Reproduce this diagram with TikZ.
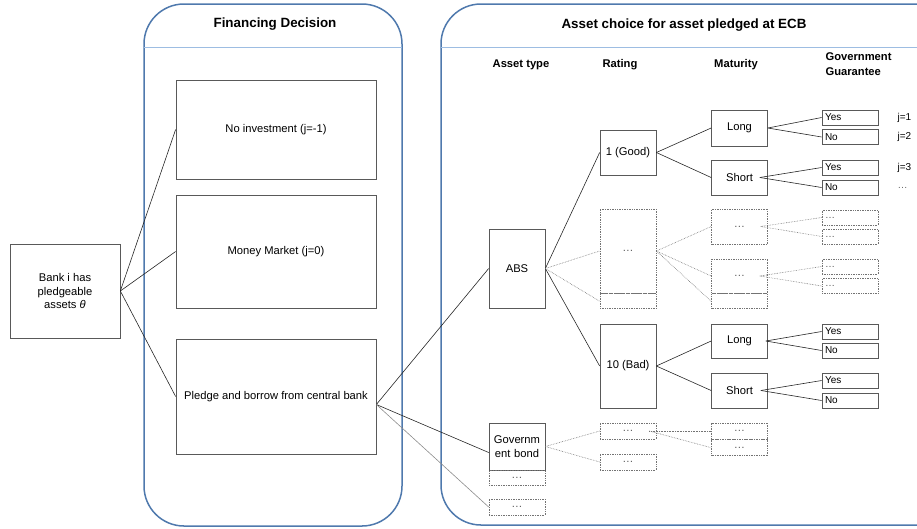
\documentclass[tikz,border=0pt]{standalone}
\usepackage{fontspec}
\setmainfont{Liberation Sans}
\usetikzlibrary{positioning}
\definecolor{panelblue}{HTML}{4F79AD}
\definecolor{headblue}{HTML}{9DBDE2}

\begin{document}
\begin{tikzpicture}[x=1pt, y=-1pt,
  panel/.style = {draw=panelblue, line width=1.5pt, rounded corners=40pt},
  headline/.style = {draw=headblue, line width=0.9pt},
  title/.style = {font=\fontsize{13.4}{15}\selectfont\bfseries},
  colhead/.style = {font=\fontsize{11.2}{14.5}\selectfont\bfseries, align=left},
  box/.style = {shape=rectangle, draw=black!65, line width=0.7pt, inner sep=0pt,
    align=center, font=\fontsize{11.2}{13.3}\selectfont},
  dotbox/.style = {box, draw=black!55, densely dotted, text=black!65},
  cell/.style = {box, minimum width=56pt},
  dotcell/.style = {dotbox, minimum width=56pt},
  choice/.style = {box, minimum width=56pt, minimum height=15pt,
    inner xsep=3pt, text width=50pt, align=left, font=\fontsize{10}{12}\selectfont},
  dotchoice/.style = {choice, draw=black!55, densely dotted, text=black!65},
  jlabel/.style = {anchor=west, font=\fontsize{10}{12}\selectfont},
  link/.style = {draw=black!85, line width=0.6pt},
  dotlink/.style = {draw=black!55, line width=0.6pt, densely dotted}]

  \useasboundingbox (0,0) rectangle (917,528);
  \clip (0,0) rectangle (917,528);

  \draw[panel] (144,4) rectangle (402,526);
  \draw[headline] (144,47) -- (402,47);
  \node[title] (fintitle) at (275,24) {Financing Decision};

  \draw[panel] (441,4) rectangle (962,525);
  \draw[headline] (441,47) -- (917,47);
  \node[title] (ecbtitle) at (684,25) {Asset choice for asset pledged at ECB};

  \node[colhead] (hasset) at (521,65) {Asset type};
  \node[colhead] (hrating) at (620,65) {Rating};
  \node[colhead] (hmat) at (736,65) {Maturity};
  \node[colhead, anchor=west] (hgg) at (822,64) {Government\\Guarantee};

  \node[box, minimum width=110pt, minimum height=94pt] (bank) at (65,291)
    {Bank i has\\pledgeable\\assets \textit{θ}};
  \node[box, minimum width=200pt, minimum height=99pt] (noinv) at (276,129.5)
    {No investment (j=-1)};
  \node[box, minimum width=200pt, minimum height=113pt] (money) at (276,251.5)
    {Money Market (j=0)};
  \node[box, minimum width=200pt, minimum height=115pt] (pledge) at (276,396.5)
    {Pledge and borrow from central bank};

  \node[cell, minimum height=79pt] (abs) at (517,268.5) {ABS};
  \node[cell, minimum height=47pt, text width=54pt] (govbond) at (517,446.5)
    {Governm\\ent bond};
  \node[dotcell, minimum height=15pt, below=0pt of govbond] (govdots) {…};
  \node[dotcell, minimum height=16pt] (otherasset) at (517,507) {…};

  \node[cell, minimum height=45pt] (good) at (628,152.5) {1 (Good)};
  \node[dotcell, minimum height=84pt] (ratdots) at (628,251) {…};
  \node[dotcell, minimum height=15pt, below=0pt of ratdots] (ratdotsb) {};
  \node[cell, minimum height=84pt] (bad) at (628,366) {10 (Bad)};
  \node[dotcell, minimum height=16pt] (govrata) at (628,431) {…};
  \node[dotcell, minimum height=16pt] (govratb) at (628,462) {…};

  \node[cell, minimum height=36pt] (goodlong) at (739.5,128) {Long};
  \node[cell, minimum height=35pt] (goodshort) at (739.5,177.5) {Short};
  \node[dotcell, minimum height=35pt] (matdotsa) at (739.5,226.5) {…};
  \node[dotcell, minimum height=34pt] (matdotsb) at (739.5,276) {…};
  \node[dotcell, minimum height=15pt, below=0pt of matdotsb] (matdotsc) {};
  \node[cell, minimum height=34pt] (badlong) at (739.5,341) {Long};
  \node[cell, minimum height=35pt] (badshort) at (739.5,390.5) {Short};
  \node[dotcell, minimum height=16pt] (govmata) at (739.5,431) {…};
  \node[dotcell, minimum height=16pt, below=0pt of govmata] (govmatb) {…};

  \foreach \nm/\y/\txt in {gya/117.5/Yes, gna/137/No, gyb/167.5/Yes, gnb/187.5/No,
      bya/331.5/Yes, bna/350.5/No, byb/380.5/Yes, bnb/400.5/No}
    \node[choice] (\nm) at (850,\y) {\txt};
  \foreach \nm/\y in {dya/217.5, dna/236.5, dyb/266.5, dnb/286}
    \node[dotchoice] (\nm) at (850,\y) {…};

  \node[jlabel] (j1) at (894,117.5) {j=1};
  \node[jlabel] (j2) at (894,136.5) {j=2};
  \node[jlabel] (j3) at (894,167.5) {j=3};
  \node[jlabel, text=black!60] (jmore) at (894,188) {…};

  \draw[link] (bank.east) -- (noinv.west);
  \draw[link] (bank.east) -- (money.west);
  \draw[link] (bank.east) -- (pledge.west);

  \coordinate (pledgeout) at ([yshift=-8pt]pledge.east);
  \draw[link] (pledgeout) -- (abs.west);
  \draw[link] (pledgeout) -- ([yshift=-6pt]govbond.west);
  \draw[link, draw=black!45] (pledgeout) -- (otherasset.west);

  \draw[link] (abs.east) -- (good.west);
  \draw[link] (abs.east) -- (bad.west);
  \draw[dotlink] (abs.east) -- (ratdots.west);
  \draw[dotlink] (abs.east) -- (ratdotsb.west);

  \draw[link] (good.east) -- (goodlong.west);
  \draw[link] (good.east) -- (goodshort.west);
  \draw[link] (goodlong.east) -- (gya.west);
  \draw[link] (goodlong.east) -- (gna.west);
  \draw[link] ([xshift=-8pt]goodshort.east) -- (gyb.west);
  \draw[link] ([xshift=-8pt]goodshort.east) -- (gnb.west);

  \draw[dotlink] (ratdots.east) -- (matdotsa.west);
  \draw[dotlink] (ratdots.east) -- (matdotsb.west);
  \draw[dotlink] (ratdots.east) -- (matdotsc.west);
  \draw[dotlink] ([xshift=-7pt]matdotsa.east) -- (dya.west);
  \draw[dotlink] ([xshift=-7pt]matdotsa.east) -- (dna.west);
  \draw[dotlink] ([xshift=-8pt]matdotsb.east) -- (dyb.west);
  \draw[dotlink] ([xshift=-8pt]matdotsb.east) -- (dnb.west);

  \draw[link] (bad.east) -- (badlong.west);
  \draw[link] (bad.east) -- (badshort.west);
  \draw[link] ([xshift=-2pt]badlong.east) -- (bya.west);
  \draw[link] ([xshift=-2pt]badlong.east) -- (bna.west);
  \draw[link] ([xshift=-7pt]badshort.east) -- (byb.west);
  \draw[link] ([xshift=-7pt]badshort.east) -- (bnb.west);

  \draw[dotlink] (govbond.east) -- (govrata.west);
  \draw[dotlink] (govbond.east) -- (govratb.west);
  \draw[dotlink] ([xshift=-7pt]govrata.east) -- (govmata.west);
  \draw[dotlink] ([xshift=-7pt]govrata.east) -- (govmatb.west);
\end{tikzpicture}
\end{document}
